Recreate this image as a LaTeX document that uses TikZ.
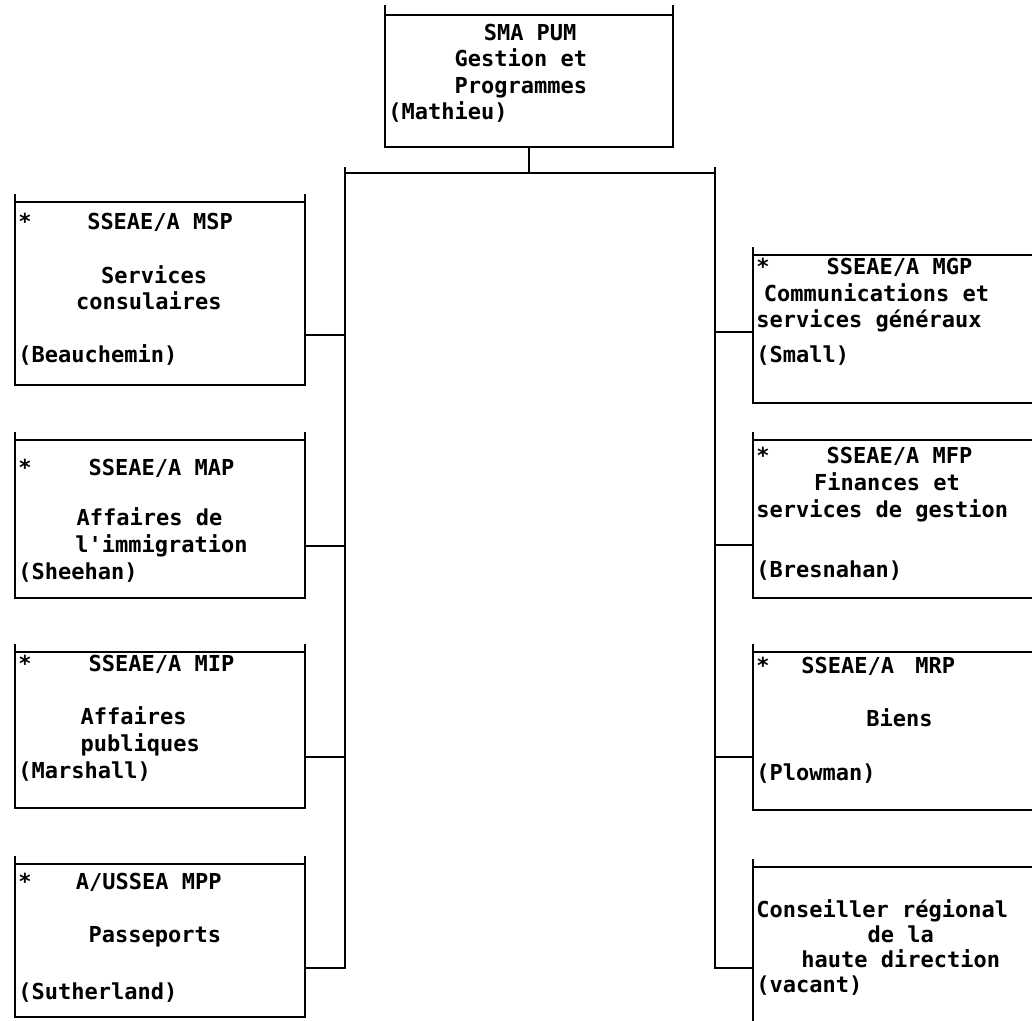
\documentclass[tikz,border=0pt]{standalone}
\usepackage{fontspec}
\setmonofont{DejaVu Sans Mono}
\newcommand{\ind}[1]{\hspace*{#1\fontcharwd\font`\x}}
\tikzset{
  unit/.style     = {draw, line width=1.3pt, anchor=north west,
                     inner sep=0pt, outer sep=0pt},
  unittext/.style = {anchor=base west, align=left, inner sep=0pt,
                     font=\ttfamily\bfseries\fontsize{11pt}{13.3pt}\selectfont},
  link/.style     = {line width=1.3pt}
}
\begin{document}
\begin{tikzpicture}[x=0.5pt, y=-0.5pt]
\useasboundingbox (0,0) rectangle (1032,1021);
\clip (0,0) rectangle (1032,1021);
% Boxes
\node[unit, minimum width=144pt, minimum height=66pt] (pum) at (385,15) {};
\foreach \name/\y/\h in {msp/202/91.5pt, map/440/79pt, mip/652/78pt, mpp/864/76.5pt}
  \node[unit, minimum width=145pt, minimum height=\h] (\name) at (15,\y) {};
\foreach \name/\y/\h in {mgp/255/74pt, mfp/440/79pt, mrp/652/79pt, crd/867/90pt}
  \node[unit, minimum width=148.5pt, minimum height=\h] (\name) at (753,\y) {};
% Corner ticks
\draw[link] (pum.north west) -- ++(0,-10) (pum.north east) -- ++(0,-10);
\foreach \name in {msp,map,mip,mpp,mgp,mfp,mrp,crd}
  \draw[link] (\name.north west) -- ++(0,-8) (\name.north east) -- ++(0,-8);
% Bus
\coordinate (hub) at (529,173);
\coordinate (busL) at (345,173);
\coordinate (busR) at (715,173);
\foreach \name/\y in {msp/335, map/546, mip/757, mpp/968}
  \coordinate (j\name) at (345,\y);
\foreach \name/\y in {mgp/332, mfp/545, mrp/757, crd/968}
  \coordinate (j\name) at (715,\y);
\draw[link] (pum.south) -- (hub);
\draw[link] ([yshift=3pt]busL) -- (busL) -- (busR) -- ([yshift=3pt]busR);
\draw[link] (busL) -- (jmpp) -- (jmpp -| mpp.east);
\draw[link] (busR) -- (jcrd) -- (jcrd -| crd.west);
\foreach \name in {msp,map,mip}
  \draw[link] (j\name) -- (j\name -| \name.east);
\foreach \name in {mgp,mfp,mrp}
  \draw[link] (j\name) -- (j\name -| \name.west);
% Texts (base = last line)
\node[unittext] (tpum) at (388,120)
  {\ind{7.2}SMA PUM\\\ind{5}Gestion et\\\ind{5}Programmes\\(Mathieu)};
\node[unittext] (tmsp) at (18,363)
  {*\ind{4.2}SSEAE/A MSP\\[13.3pt]\ind{6.25}Services\\\ind{4.35}consulaires\\[13.3pt](Beauchemin)};
\node[unittext] (tmap) at (18,579)
  {*\ind{4.3}SSEAE/A MAP\\[11.7pt]\ind{4.4}Affaires de\\\ind{4.3}l'immigration\\(Sheehan)};
\node[unittext] (tmip) at (18,778)
  {*\ind{4.3}SSEAE/A MIP\\[13.3pt]\ind{4.7}Affaires\\\ind{4.7}publiques\\(Marshall)};
\node[unittext] (tmpp) at (18,999)
  {*\ind{3.35}A/USSEA MPP\\[13.3pt]\ind{5.3}Passeports\\[14.8pt](Sutherland)};
\node[unittext] (tmgp) at (756,363)
  {*\ind{4.3}SSEAE/A MGP\\\ind{0.57}Communications et\\services généraux\\[4.3pt](Small)};
\node[unittext] (tmfp) at (756,577)
  {*\ind{4.3}SSEAE/A MFP\\\ind{4.36}Finances et\\services de gestion\\[16.7pt](Bresnahan)};
\node[unittext] (tmrp) at (756,780)
  {*\ind{2.4}SSEAE/A\ind{1.6}MRP\\[13.3pt]\ind{8.3}Biens\\[13.3pt](Plowman)};
\node[unittext] (tcrd) at (756,992)
  {Conseiller régional\\[-0.8pt]\ind{8.4}de la\\[-0.8pt]\ind{3.4}haute direction\\[-0.8pt](vacant)};
\end{tikzpicture}
\end{document}
